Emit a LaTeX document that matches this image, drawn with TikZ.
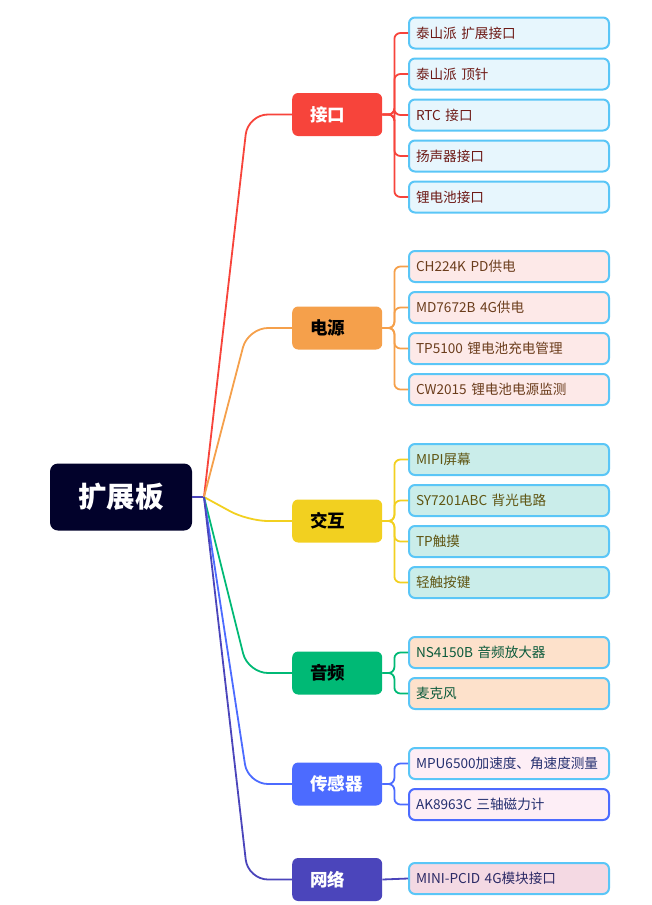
\documentclass[tikz,border=0pt]{standalone}
\usepackage{fontspec}
\setmainfont{Noto Sans CJK SC}
\definecolor{rootc}{HTML}{02022B}
\definecolor{cred}{HTML}{F7443B}
\definecolor{corange}{HTML}{F5A04B}
\definecolor{cyellow}{HTML}{F2D020}
\definecolor{cgreen}{HTML}{00B975}
\definecolor{cblue}{HTML}{4C6BFF}
\definecolor{cindigo}{HTML}{4B45BB}
\definecolor{leafb}{HTML}{5AC6F7}
\definecolor{fa}{HTML}{E7F6FD}
\definecolor{fb}{HTML}{FDE9E8}
\definecolor{fc}{HTML}{CAEDEA}
\definecolor{fd}{HTML}{FDE1CB}
\definecolor{fe}{HTML}{FDEEF6}
\definecolor{ff}{HTML}{F4D9E3}
\definecolor{ta}{HTML}{6E1A16}
\definecolor{tb}{HTML}{6B3D1C}
\definecolor{tc}{HTML}{5F5512}
\definecolor{td}{HTML}{0B5A3B}
\definecolor{te}{HTML}{253070}
\definecolor{tf}{HTML}{2C2A66}
\tikzset{
  rootbox/.style={fill=rootc, rounded corners=8pt, minimum width=142pt, minimum height=67pt,
    text=white, font=\fontsize{28.5}{31}\selectfont\bfseries, inner sep=0pt},
  branchbox/.style={rounded corners=6pt, minimum height=43pt, text width=54pt, inner xsep=18pt,
    inner ysep=0pt, align=left, anchor=west, font=\fontsize{17.5}{20}\selectfont\bfseries},
  leafbox/.style={draw=leafb, line width=2pt, rounded corners=6pt, minimum height=31pt,
    text width=186pt, inner xsep=7pt, inner ysep=0pt, align=left, anchor=west,
    font=\fontsize{13.6}{15}\selectfont},
  conn/.style={line width=1.8pt, rounded corners=20pt},
  sub/.style={line width=1.8pt, rounded corners=6pt},
}
\begin{document}
\begin{tikzpicture}[x=1pt,y=-1pt]
\useasboundingbox (0,0) rectangle (652,905);
\node[rootbox] (root) at (121,497) {扩展板};
\coordinate (hub) at (204,497);

\node[branchbox, fill=cred, text=white] (b1) at (292,114.5) {接口};
\node[branchbox, fill=corange, text=black] (b2) at (292,328) {电源};
\node[branchbox, fill=cyellow, text=black] (b3) at (292,521) {交互};
\node[branchbox, fill=cgreen, text=black] (b4) at (292,673) {音频};
\node[branchbox, fill=cblue, text=white] (b5) at (292,784) {传感器};
\node[branchbox, fill=cindigo, text=white] (b6) at (292,879.5) {网络};

% leaves
\node[leafbox, fill=fa, text=ta] (a1) at (408,33) {泰山派 扩展接口};
\node[leafbox, fill=fa, text=ta] (a2) at (408,74) {泰山派 顶针};
\node[leafbox, fill=fa, text=ta] (a3) at (408,115) {RTC 接口};
\node[leafbox, fill=fa, text=ta] (a4) at (408,156) {扬声器接口};
\node[leafbox, fill=fa, text=ta] (a5) at (408,197) {锂电池接口};

\node[leafbox, fill=fb, text=tb] (p1) at (408,266.5) {CH224K PD供电};
\node[leafbox, fill=fb, text=tb] (p2) at (408,307.5) {MD7672B 4G供电};
\node[leafbox, fill=fb, text=tb] (p3) at (408,348.5) {TP5100 锂电池充电管理};
\node[leafbox, fill=fb, text=tb] (p4) at (408,389.5) {CW2015 锂电池电源监测};

\node[leafbox, fill=fc, text=tc] (i1) at (408,459.5) {MIPI屏幕};
\node[leafbox, fill=fc, text=tc] (i2) at (408,500.5) {SY7201ABC 背光电路};
\node[leafbox, fill=fc, text=tc] (i3) at (408,541.5) {TP触摸};
\node[leafbox, fill=fc, text=tc] (i4) at (408,582.5) {轻触按键};

\node[leafbox, fill=fd, text=td] (s1) at (408,652.5) {NS4150B 音频放大器};
\node[leafbox, fill=fd, text=td] (s2) at (408,693.5) {麦克风};

\node[leafbox, fill=fe, text=te] (e1) at (408,763.5) {\mbox{MPU6500加速度、角速度测量}};
\node[leafbox, fill=fe, text=te, draw=cblue] (e2) at (408,804.5) {AK8963C 三轴磁力计};

\node[leafbox, fill=ff, text=tf] (n1) at (408,878.5) {MINI-PCID 4G模块接口};

% root connectors
\draw[line width=1.8pt, cindigo] (root.east) -- (hub);
\draw[conn, cred] (hub) -- (248,114.5) -- (b1.west);
\draw[conn, corange] (hub) -- (248,328) -- (b2.west);
\draw[conn, cyellow] (hub) -- (248,521) -- (b3.west);
\draw[conn, cgreen] (hub) -- (248,673) -- (b4.west);
\draw[conn, cblue] (hub) -- (248,784) -- (b5.west);
\draw[conn, cindigo] (hub) -- (248,879.5) -- (b6.west);

% branch to leaves
\foreach \l in {a1,a2,a3,a4,a5}{\draw[sub, cred] (b1.east) -- ++(12,0) |- (\l.west);}
\foreach \l in {p1,p2,p3,p4}{\draw[sub, corange] (b2.east) -- ++(12,0) |- (\l.west);}
\foreach \l in {i1,i2,i3,i4}{\draw[sub, cyellow] (b3.east) -- ++(12,0) |- (\l.west);}
\foreach \l in {s1,s2}{\draw[sub, cgreen] (b4.east) -- ++(12,0) |- (\l.west);}
\foreach \l in {e1,e2}{\draw[sub, cblue] (b5.east) -- ++(12,0) |- (\l.west);}
\draw[sub, cindigo] (b6.east) -- (n1.west);
\end{tikzpicture}
\end{document}
